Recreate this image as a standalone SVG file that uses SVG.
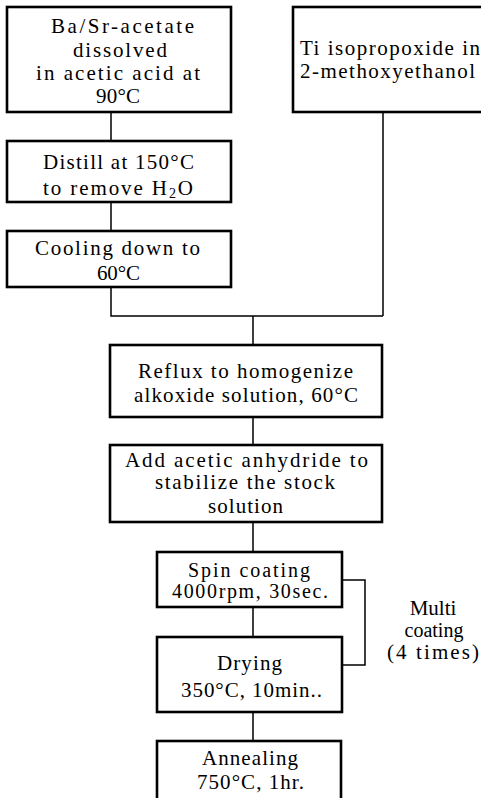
<svg xmlns="http://www.w3.org/2000/svg" width="481" height="798" viewBox="0 0 481 798">
<style>
.box{fill:#fff;stroke:#000;stroke-width:2.6}
.con{fill:none;stroke:#000;stroke-width:1.5}
text{font-family:"Liberation Serif","Times New Roman",serif;font-size:21px;fill:#000}
.s{font-size:20px}
.m{text-anchor:middle}
</style>
<rect width="481" height="798" fill="#fff"/>
<g id="connectors">
<path class="con" d="M111 112V141M111 202V231M111 287V316H383M383 112V316M253 316V345M253 417V445M253 522V552M253 607V637M253 712V741M342 580H365V665H342"/>
</g>
<g id="n1">
<rect class="box" x="7" y="7" width="224" height="105"/>
<text x="51" y="33" textLength="143" lengthAdjust="spacing">Ba/Sr-acetate</text>
<text x="73" y="57" textLength="94" lengthAdjust="spacing">dissolved</text>
<text x="36" y="80" textLength="164" lengthAdjust="spacing">in acetic acid at</text>
<text x="96" y="103" textLength="44" lengthAdjust="spacing">90°C</text>
</g>
<g id="n2">
<rect class="box" x="293" y="7" width="200" height="105"/>
<text x="300" y="55" textLength="180" lengthAdjust="spacing">Ti isopropoxide in</text>
<text x="300" y="78" textLength="175" lengthAdjust="spacing">2-methoxyethanol</text>
</g>
<g id="n3">
<rect class="box" x="7" y="141" width="224" height="61"/>
<text x="43" y="169" textLength="151" lengthAdjust="spacing">Distill at 150°C</text>
<text x="43" y="195" textLength="150" lengthAdjust="spacing">to remove H<tspan font-size="14" dy="3">2</tspan><tspan dy="-3">O</tspan></text>
</g>
<g id="n4">
<rect class="box" x="7" y="231" width="224" height="56"/>
<text x="35" y="255" textLength="165" lengthAdjust="spacing">Cooling down to</text>
<text x="97" y="280" textLength="43" lengthAdjust="spacing">60°C</text>
</g>
<g id="n5">
<rect class="box" x="110" y="345" width="272" height="72"/>
<text x="138" y="378" textLength="215" lengthAdjust="spacing">Reflux to homogenize</text>
<text x="134" y="402" textLength="224" lengthAdjust="spacing">alkoxide solution, 60°C</text>
</g>
<g id="n6">
<rect class="box" x="110" y="445" width="272" height="77"/>
<text x="125" y="467" textLength="243" lengthAdjust="spacing">Add acetic anhydride to</text>
<text x="155" y="489" textLength="180" lengthAdjust="spacing">stabilize the stock</text>
<text x="208" y="513" textLength="75" lengthAdjust="spacing">solution</text>
</g>
<g id="n7">
<rect class="box" x="157" y="552" width="185" height="55"/>
<text class="s" x="188" y="577" textLength="122" lengthAdjust="spacing">Spin coating</text>
<text class="s" x="172" y="598" textLength="156" lengthAdjust="spacing">4000rpm, 30sec.</text>
</g>
<g id="n8">
<rect class="box" x="157" y="637" width="185" height="75"/>
<text x="217" y="670" textLength="65" lengthAdjust="spacing">Drying</text>
<text x="181" y="697" textLength="141" lengthAdjust="spacing">350°C, 10min..</text>
</g>
<g id="n9">
<rect class="box" x="157" y="741" width="184" height="62"/>
<text x="202" y="765" textLength="96" lengthAdjust="spacing">Annealing</text>
<text x="197" y="789" textLength="107" lengthAdjust="spacing">750°C, 1hr.</text>
</g>
<g id="label">
<text class="m" x="433" y="615">Multi</text>
<text class="m s" x="434" y="637">coating</text>
<text x="387" y="659" textLength="92" lengthAdjust="spacing">(4 times)</text>
</g>
</svg>
